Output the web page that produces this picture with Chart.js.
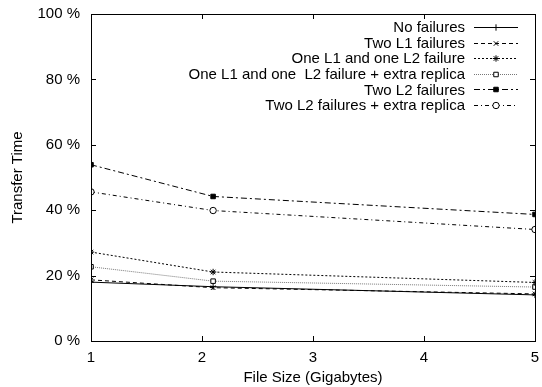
<!DOCTYPE html>
<html>
<head>
<meta charset="utf-8">
<script src="https://cdn.jsdelivr.net/npm/chart.js@4.4.0/dist/chart.umd.min.js"></script>
<style>
html, body { margin: 0; padding: 0; background: #fff; }
#wrap { width: 542px; height: 387px; }
</style>
</head>
<body>
<div id="wrap"><canvas id="transferChart" width="542" height="387"></canvas></div>
<script>
const fileSizes = [1, 2.1, 5];
const seriesNames = [
	"No failures",
	"Two L1 failures",
	"One L1 and one L2 failure",
	"One L1 and one  L2 failure + extra replica",
	"Two L2 failures",
	"Two L2 failures + extra replica"
];
const noFailures = [18.0, 16.6, 14.1];
const twoL1 = [18.7, 16.3, 14.4];
const oneL1oneL2 = [27.2, 21.1, 17.9];
const oneL1oneL2Extra = [22.7, 18.3, 16.5];
const twoL2 = [53.9, 44.2, 38.7];
const twoL2Extra = [45.6, 39.9, 34.1];
const yTicks = [0, 20, 40, 60, 80, 100];
const xTicks = [1, 2, 3, 4, 5];

const FONT = "'Liberation Sans', Arial, Helvetica, sans-serif";

function toPoints(values){
	return values.map( (v, i) => ({ x: fileSizes[i], y: v }) );
}

const styles = [
	{ dash: [], color: '#000', point: 'cross', fill: '#000' },
	{ dash: [4, 3], color: '#000', point: 'crossRot', fill: '#000' },
	{ dash: [2, 2], color: '#000', point: 'star', fill: '#000' },
	{ dash: [1, 1], color: '#777', point: 'rect', fill: '#fff' },
	{ dash: [6, 3, 2, 3], color: '#000', point: 'rect', fill: '#000' },
	{ dash: [4, 3, 1, 3], color: '#000', point: 'circle', fill: '#fff' }
];
const allValues = [noFailures, twoL1, oneL1oneL2, oneL1oneL2Extra, twoL2, twoL2Extra];

const datasets = allValues.map( (vals, i) => ({
	label: seriesNames[i],
	data: toPoints(vals),
	borderColor: styles[i].color,
	borderWidth: 1,
	borderDash: styles[i].dash,
	pointStyle: styles[i].point,
	pointRadius: 3.2,
	pointBorderColor: '#000',
	pointBackgroundColor: styles[i].fill,
	pointBorderWidth: 1,
	tension: 0,
	fill: false
}) );

// frame, mirrored inner ticks, and gnuplot style key
const gnuplotFrame = {
	id: 'gnuplotFrame',
	afterDatasetsDraw(chart){
		const ctx = chart.ctx;
		const a = chart.chartArea;
		const xs = chart.scales.x, ys = chart.scales.y;
		ctx.save();
		ctx.strokeStyle = '#000';
		ctx.lineWidth = 1;
		ctx.setLineDash([]);
		ctx.strokeRect(Math.round(a.left) + 0.5, Math.round(a.top) + 0.5, Math.round(a.right - a.left), Math.round(a.bottom - a.top));
		ctx.beginPath();
		yTicks.forEach( v => {
			const y = Math.round(ys.getPixelForValue(v)) + 0.5;
			ctx.moveTo(a.left, y); ctx.lineTo(a.left + 5, y);
			ctx.moveTo(a.right, y); ctx.lineTo(a.right - 5, y);
		});
		xTicks.forEach( v => {
			const x = Math.round(xs.getPixelForValue(v)) + 0.5;
			ctx.moveTo(x, a.bottom); ctx.lineTo(x, a.bottom - 5);
			ctx.moveTo(x, a.top); ctx.lineTo(x, a.top + 5);
		});
		ctx.stroke();

		// key
		ctx.font = '15px ' + FONT;
		ctx.textAlign = 'right';
		ctx.textBaseline = 'middle';
		ctx.fillStyle = '#000';
		chart.data.datasets.forEach( (ds, i) => {
			const y = 27 + i * 15.6;
			ctx.fillText(ds.label, 465, y + 1);
			ctx.beginPath();
			ctx.strokeStyle = ds.borderColor;
			ctx.setLineDash(ds.borderDash);
			ctx.moveTo(474, Math.round(y) + 0.5);
			ctx.lineTo(518, Math.round(y) + 0.5);
			ctx.stroke();
			ctx.setLineDash([]);
			ctx.strokeStyle = '#000';
			ctx.fillStyle = ds.pointBackgroundColor;
			Chart.helpers.drawPoint(ctx, { pointStyle: ds.pointStyle, radius: 3.2, borderWidth: 1, rotation: 0 }, 496, Math.round(y) + 0.5);
			ctx.fillStyle = '#000';
		});
		ctx.restore();
	}
};

const ctx = document.getElementById('transferChart').getContext('2d');
new Chart(ctx, {
	type: 'line',
	data: { datasets: datasets },
	options: {
		responsive: false,
		animation: false,
		devicePixelRatio: 1,
		layout: { padding: { left: 0, right: 7, top: 14, bottom: 0 } },
		plugins: {
			legend: { display: false },
			tooltip: { enabled: false }
		},
		scales: {
			x: {
				type: 'linear',
				min: 1,
				max: 5,
				afterFit: (scale) => { scale.height = 46; scale.paddingLeft = 0; scale.paddingRight = 0; },
				afterBuildTicks: (scale) => { scale.ticks = xTicks.map( v => ({ value: v }) ); },
				grid: { display: false, drawTicks: false },
				border: { display: false },
				ticks: { color: '#000', padding: 8, font: { family: FONT, size: 15 } },
				title: { display: true, text: 'File Size (Gigabytes)', color: '#000', padding: { top: 0, bottom: 0 }, font: { family: FONT, size: 15 } }
			},
			y: {
				type: 'linear',
				min: 0,
				max: 100,
				afterFit: (scale) => { scale.width = 91; scale.paddingTop = 0; scale.paddingBottom = 0; },
				afterBuildTicks: (scale) => { scale.ticks = yTicks.map( v => ({ value: v }) ); },
				grid: { display: false, drawTicks: false },
				border: { display: false },
				ticks: {
					color: '#000',
					padding: 11,
					font: { family: FONT, size: 15 },
					callback: function (value){ return value + ' %'; }
				},
				title: { display: true, text: 'Transfer Time', color: '#000', padding: { top: 9, bottom: 0 }, font: { family: FONT, size: 15 } }
			}
		}
	},
	plugins: [gnuplotFrame]
});
</script>
</body>
</html>
